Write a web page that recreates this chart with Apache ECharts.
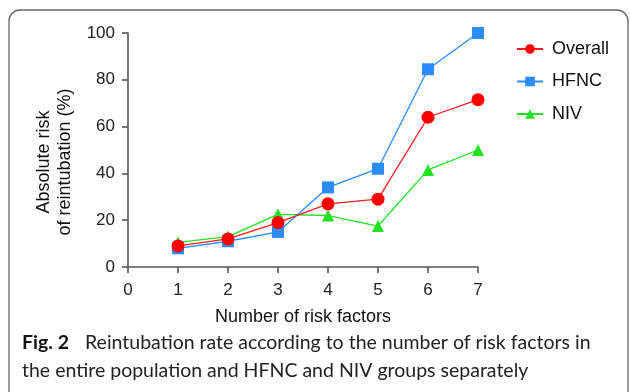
<!DOCTYPE html>
<html>
<head>
<meta charset="utf-8">
<script src="https://cdn.jsdelivr.net/npm/echarts@6/dist/echarts.min.js"></script>
<style>
html,body{margin:0;padding:0;background:#fff;}
#chart{width:630px;height:392px;}
</style>
</head>
<body>
<div id="chart"></div>
<script>
const riskFactors = [1, 2, 3, 4, 5, 6, 7];
const overall = [9, 12, 19, 27, 29, 64, 71.5];
const hfnc = [8, 11, 15, 34, 42, 84.5, 100];
const niv = [10.5, 13, 22.5, 22, 17.5, 41.5, 50];
const seriesNames = ['Overall', 'HFNC', 'NIV'];
const xTitle = 'Number of risk factors';
const yTitle = 'Absolute risk\nof reintubation (%)';
const captionBold = 'Fig. 2';
const captionLine1 = 'Reintubation rate according to the number of risk factors in';
const captionLine2 = 'the entire population and HFNC and NIV groups separately';

function pairs(vals){ return riskFactors.map((x,i)=>[x, vals[i]]); }

const chart = echarts.init(document.getElementById('chart'), null, {renderer:'canvas'});
const axisCol = '#555';
const font = 'Liberation Sans, Arial, sans-serif';
const capFont = 'Lato, "Open Sans", sans-serif';
chart.setOption({
  animation:false,
  backgroundColor:'#fff',
  grid:{left:128, right:152, top:33, bottom:125},
  legend:{
    orient:'vertical', left:511, top:35, itemWidth:26, itemHeight:12, itemGap:14.5,
    data:seriesNames,
    textStyle:{fontFamily:font, fontSize:18, color:'#111', lineHeight:18, padding:[0,0,0,4]},
  },
  xAxis:{
    type:'value', min:0, max:7, interval:1,
    name:xTitle, nameLocation:'middle', nameGap:41,
    nameTextStyle:{fontFamily:font, fontSize:18, color:'#111'},
    axisLine:{show:true, lineStyle:{color:axisCol, width:1.6}},
    axisTick:{show:true, length:6, lineStyle:{color:axisCol, width:1.6}},
    axisLabel:{fontFamily:font, fontSize:17, color:'#222', margin:15},
    splitLine:{show:false}
  },
  yAxis:{
    type:'value', min:0, max:100, interval:20,
    name:yTitle, nameLocation:'middle', nameGap:50, nameRotate:90,
    nameTextStyle:{fontFamily:font, fontSize:18, color:'#111', lineHeight:21, align:'center', padding:[0,24,0,0]},
    axisLine:{show:true, lineStyle:{color:axisCol, width:1.6}},
    axisTick:{show:true, length:6, lineStyle:{color:axisCol, width:1.6}},
    axisLabel:{fontFamily:font, fontSize:17, color:'#222', margin:13},
    splitLine:{show:false}
  },
  series:[
    {name:'NIV', type:'line', data:pairs(niv), symbol:'triangle', symbolSize:12,
     lineStyle:{color:'#22e022', width:1.3}, itemStyle:{color:'#22e022'}, z:2},
    {name:'HFNC', type:'line', data:pairs(hfnc), symbol:'rect', symbolSize:12,
     lineStyle:{color:'#2a8cff', width:1.3}, itemStyle:{color:'#2a8cff'}, z:3},
    {name:'Overall', type:'line', data:pairs(overall), symbol:'circle', symbolSize:13,
     lineStyle:{color:'#ff1a1a', width:1.3}, itemStyle:{color:'#ff0000'}, z:4}
  ],
  graphic:[
    {type:'rect', shape:{x:9, y:10, width:619, height:395, r:11}, style:{fill:null, stroke:'#666', lineWidth:1.3}, silent:true},
    {type:'text', left:22, top:333, style:{text:captionBold, font:'bold 19.5px '+capFont, fill:'#111'}},
    {type:'text', left:85, top:333, style:{text:captionLine1, font:'19.5px '+capFont, fill:'#222'}},
    {type:'text', left:22, top:361, style:{text:captionLine2, font:'19.5px '+capFont, fill:'#222'}}
  ]
});
</script>
</body>
</html>
